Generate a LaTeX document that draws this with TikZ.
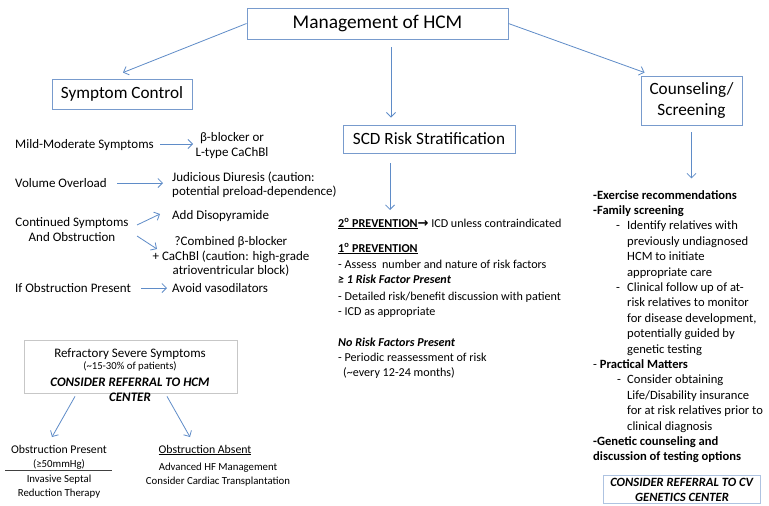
\documentclass[tikz,border=0pt]{standalone}
\usepackage{fontspec}
\setmainfont{Carlito}
\newfontfamily\djv{DejaVu Sans}
\usetikzlibrary{arrows.meta,calc}
\definecolor{boxblue}{RGB}{120,155,205}
\definecolor{arrblue}{RGB}{95,140,200}
\newcommand\fBig{\fontsize{19.4}{23}\selectfont}
\newcommand\fHead{\fontsize{17.2}{21}\selectfont}
\newcommand\fLeft{\fontsize{13}{15.5}\selectfont}
\newcommand\fScd{\fontsize{12.1}{15}\selectfont}
\newcommand\fRight{\fontsize{12.6}{15.4}\selectfont}
\newcommand\fSmall{\fontsize{11.8}{14}\selectfont}
\newcommand\fTiny{\fontsize{10.8}{13}\selectfont}
\newcommand\fMini{\fontsize{10.7}{12}\selectfont}
\begin{document}
\begin{tikzpicture}[x=1pt,y=-1pt,
  box/.style={draw=boxblue,line width=0.9pt,inner sep=0pt,align=center},
  rbox/.style={draw=black!22,line width=0.8pt,inner sep=0pt},
  arr/.style={draw=arrblue,line width=0.8pt,-{Straight Barb[length=4.5pt,width=9pt]}},
  tl/.style={inner sep=0pt,anchor=base west,font=\fLeft},
  tc/.style={inner sep=0pt,anchor=base,font=\fLeft},
  sl/.style={inner sep=0pt,anchor=base west,font=\fScd},
  rl/.style={inner sep=0pt,anchor=base west,font=\fRight},
]
\useasboundingbox (0,0) rectangle (769,506);
\fill[white] (0,0) rectangle (769,506);

% main boxes
\node[box,font=\fBig,minimum width=261pt,minimum height=31pt] (mgmt) at (377.5,23.5) {Management of HCM};
\node[box,font=\fHead,minimum width=140pt,minimum height=30pt] (sym) at (122,94) {Symptom Control};
\node[box,font=\fHead,minimum width=172pt,minimum height=28pt] (scd) at (429,139) {SCD Risk Stratification};
\node[box,font=\fHead,minimum width=101pt,minimum height=49pt] (cou) at (691.5,100.5) {Counseling/\\Screening};

\draw[arr] (mgmt.west) -- ([xshift=1pt,yshift=6pt]sym.north);
\draw[arr] ([xshift=13.5pt,yshift=-8pt]mgmt.south) -- ([xshift=-38pt,yshift=7pt]scd.north);
\draw[arr] (mgmt.east) -- ([xshift=4pt,yshift=3pt]cou.north west);

% left column
\node[tl] (mild) at (15,148) {Mild-Moderate Symptoms};
\node[tc] (beta1) at (232,141) {β-blocker or};
\node[tc] (beta2) at (232,156) {L-type CaChBl};
\coordinate (a1s) at (160,144); \coordinate (a1e) at (193,144);
\draw[arr] (a1s) -- (a1e);

\node[tl] (vol) at (15,187) {Volume Overload};
\node[tl] (jud1) at (172,181) {Judicious Diuresis (caution:};
\node[tl] (jud2) at (172,195.5) {potential preload-dependence)};
\coordinate (a2s) at (117,183); \coordinate (a2e) at (163,183);
\draw[arr] (a2s) -- (a2e);

\node[tc] (cont1) at (72,226) {Continued Symptoms};
\node[tc] (cont2) at (72,241) {And Obstruction};
\node[tl] (addd) at (172,219) {Add Disopyramide};
\coordinate (a3s) at (137,225); \coordinate (a3e) at (160,214);
\draw[arr] (a3s) -- (a3e);
\node[tc] (comb1) at (231,245) {?Combined β-blocker};
\node[tc] (comb2) at (231,260) {+ CaChBl (caution: high-grade};
\node[tc] (comb3) at (231,274) {atrioventricular block)};
\coordinate (a4s) at (137,236); \coordinate (a4e) at (157,249);
\draw[arr] (a4s) -- (a4e);

\node[tl] (ifob) at (15,292) {If Obstruction Present};
\node[tl] (avoid) at (172,292) {Avoid vasodilators};
\coordinate (a5s) at (141,288); \coordinate (a5e) at (167,288);
\draw[arr] (a5s) -- (a5e);

% refractory
\node[rbox,minimum width=213pt,minimum height=53pt] (refr) at (130.5,366.5) {};
\node[tc] (ref1) at (130,357) {Refractory Severe Symptoms};
\node[tc,font=\fMini] (ref2) at (130,369.5) {(\textasciitilde 15-30\% of patients)};
\node[tc] (ref3) at (130,386) {\textbf{\textit{CONSIDER REFERRAL TO HCM}}};
\node[tc] (ref4) at (130,401) {\textbf{\textit{CENTER}}};
\coordinate (b1e) at (52,437); \coordinate (b2e) at (190,437);
\draw[arr] ([xshift=-55.5pt,yshift=-3pt]refr.south) -- (b1e);
\draw[arr] ([xshift=36.5pt,yshift=-3pt]refr.south) -- (b2e);

\node[tc,font=\fSmall] (op1) at (59,453) {Obstruction Present};
\node[tc,font=\fTiny] (op2) at (59,467.5) {(≥50mmHg)};
\coordinate (ul1) at (5,470.5); \coordinate (ul2) at (112,470.5);
\draw[line width=0.7pt,black!75] (ul1) -- (ul2);
\node[tc,font=\fTiny] (op3) at (59,482.5) {Invasive Septal};
\node[tc,font=\fTiny] (op4) at (59,496.5) {Reduction Therapy};

\node[tc,font=\fSmall] (oa1) at (205,453) {\underline{Obstruction Absent}};
\node[tc,font=\fTiny] (oa2) at (218,470.5) {Advanced HF Management};
\node[tc,font=\fTiny] (oa3) at (218,484) {Consider Cardiac Transplantation};

% SCD column
\coordinate (c1e) at (390,210);
\draw[arr] ([xshift=-39pt,yshift=-10pt]scd.south) -- (c1e);
\node[sl] (p2) at (338,227) {\textbf{\underline{2\textsuperscript{o} PREVENTION}}{\djv\fontsize{13}{13}\selectfont\bfseries →} ICD unless contraindicated};
\node[sl] (p1) at (338,252) {\textbf{\underline{1\textsuperscript{o} PREVENTION}}};
\node[sl] (s1) at (338,268) {- Assess\ \ number and nature of risk factors};
\node[sl] (s2) at (338,283.5) {\textbf{\textit{≥ 1 Risk Factor Present}}};
\node[sl] (s3) at (338,300) {- Detailed risk/benefit discussion with patient};
\node[sl] (s4) at (338,315) {- ICD as appropriate};
\node[sl] (s5) at (338,346) {\textbf{\textit{No Risk Factors Present}}};
\node[sl] (s6) at (338,361) {- Periodic reassessment of risk};
\node[sl] (s7) at (343,376) {(\textasciitilde every 12-24 months)};

% right column
\draw[arr] ([yshift=-7pt]cou.south) -- ++(0,46);
\node[rl] (r1) at (593,199) {\textbf{-Exercise recommendations}};
\node[rl] (r2) at (593,214.4) {\textbf{-Family screening}};
\node[rl] (d1) at (616,229.8) {-};
\node[rl] (r3) at (627,229.8) {Identify relatives with};
\node[rl] (r4) at (627,245.2) {previously undiagnosed};
\node[rl] (r5) at (627,260.6) {HCM to initiate};
\node[rl] (r6) at (627,276) {appropriate care};
\node[rl] (d2) at (616,291.4) {-};
\node[rl] (r7) at (627,291.4) {Clinical follow up of at-};
\node[rl] (r8) at (627,306.8) {risk relatives to monitor};
\node[rl] (r9) at (627,322.2) {for disease development,};
\node[rl] (r10) at (627,337.6) {potentially guided by};
\node[rl] (r11) at (627,353) {genetic testing};
\node[rl] (r12) at (593,368.4) {- \textbf{Practical Matters}};
\node[rl] (d3) at (617,383.8) {-};
\node[rl] (r13) at (627,383.8) {Consider obtaining};
\node[rl] (r14) at (627,399.2) {Life/Disability insurance};
\node[rl] (r15) at (627,414.6) {for at risk relatives prior to};
\node[rl] (r16) at (627,430) {clinical diagnosis};
\node[rl] (r17) at (593,445.4) {\textbf{-Genetic counseling and}};
\node[rl] (r18) at (593,460.8) {\textbf{discussion of testing options}};
\node[box,draw=boxblue!60,line width=0.8pt,minimum width=157pt,minimum height=28pt] (cv) at (681.5,489) {};
\node[rl,anchor=base] (cv1) at (682,486) {\textbf{\textit{CONSIDER REFERRAL TO CV}}};
\node[rl,anchor=base] (cv2) at (682,501) {\textbf{\textit{GENETICS CENTER}}};
\end{tikzpicture}
\end{document}
